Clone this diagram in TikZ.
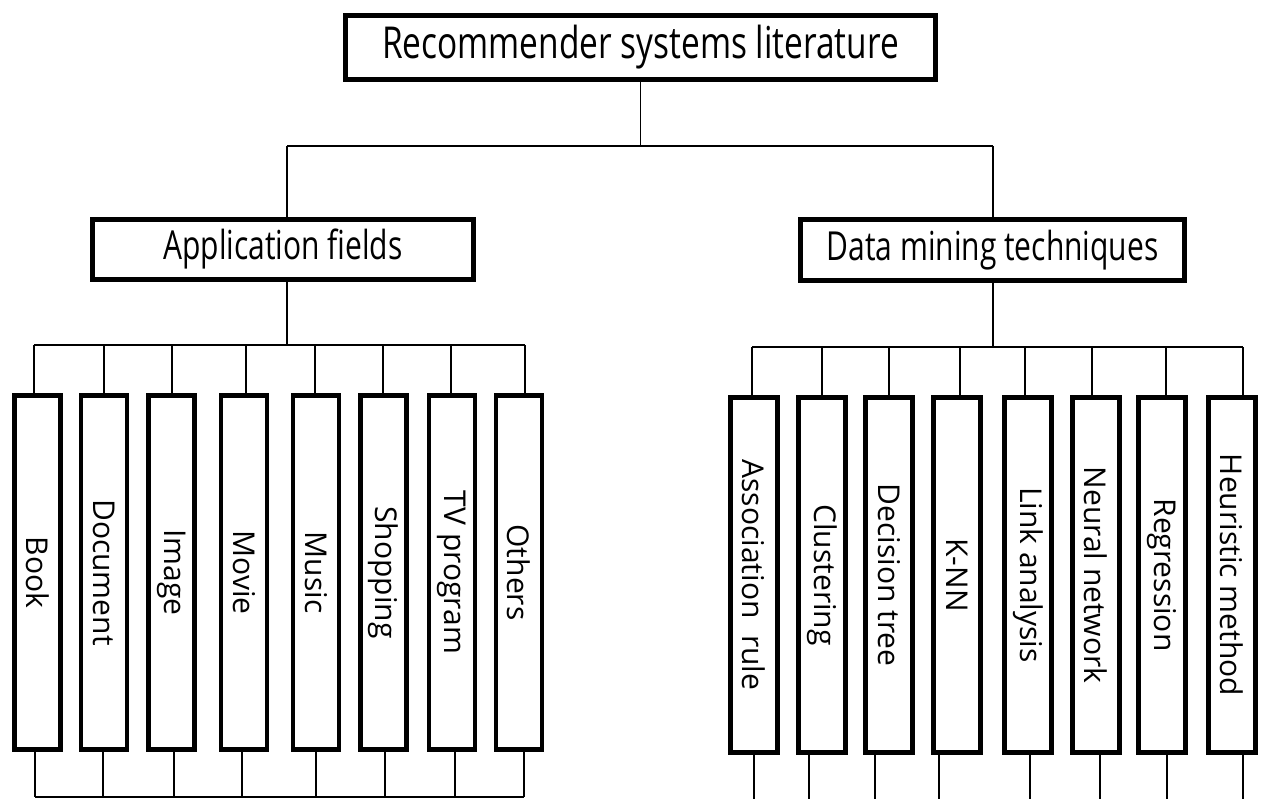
\documentclass[tikz,border=0pt]{standalone}
\usepackage{fontspec}
\setmainfont{Open Sans}
\newcommand\hlab[3][0.75]{\scalebox{#1}[1]{\fontsize{#2}{#2}\selectfont #3}}
\begin{document}
\begin{tikzpicture}[x=1pt,y=-1pt,
  box/.style={draw, line width=4.6pt, inner sep=0pt, fill=white},
  conn/.style={line width=1.8pt},
  leafL/.style={box, minimum width=46pt, minimum height=354pt, font=\fontsize{30}{30}\selectfont},
  leafR/.style={box, minimum width=47pt, minimum height=355pt, font=\fontsize{30}{30}\selectfont}]
\useasboundingbox (0,0) rectangle (1266,799);

% upper levels
\node[box, minimum width=590pt, minimum height=64pt] (root) at (640.5,47.5) {\hlab[0.76]{44}{Recommender systems literature}};
\node[box, minimum width=381pt, minimum height=60pt] (app) at (283,249.5) {\hlab{40}{Application fields}};
\node[box, minimum width=384pt, minimum height=61pt] (dm) at (992.5,250) {\hlab{40}{Data mining techniques}};

% leaves
\foreach \n/\x/\t in {book/37.5/Book, doc/104/Document, img/171.5/Image, movie/244/Movie,
    music/316/Music, shop/383.5/Shopping, tv/452/TV program, oth/519/Others}
  \node[leafL] (\n) at (\x,572.5) {\rotatebox{-90}{\t}};
\foreach \n/\x/\t in {assoc/754/Association\hspace{0.3em} rule, clus/822/Clustering, dtree/889/Decision tree,
    knn/957/K-NN, link/1028/Link analysis, neur/1096/Neural network, regr/1162/Regression, heur/1232/Heuristic method}
  \node[leafR] (\n) at (\x,575) {\rotatebox{-90}{\t}};

% bus coordinates
\coordinate (busA) at (287,146);
\coordinate (busB) at (993,146);
\coordinate (lbusL) at (34,345);
\coordinate (lbusR) at (525,345);
\coordinate (rbusL) at (752,347);
\coordinate (rbusR) at (1243,347);
\coordinate (lbotL) at (35,797);
\coordinate (lbotR) at (524,797);
\coordinate (rbot) at (0,799);

% root connectors
\draw[conn] (root.south) -- (root.south |- busA);
\draw[conn] (busA) -- (busB);
\draw[conn] (busA) -- (busA |- app.north);
\draw[conn] (busB) -- (busB |- dm.north);

% application fields
\draw[conn] (app.south -| busA) -- (lbusL -| busA);
\draw[conn] (lbusL) -- (lbusR);
\foreach \n/\dx in {book/-3.5, doc/0, img/0.5, movie/2, music/-1, shop/-0.5, tv/-1, oth/6}
  \draw[conn] ([xshift=\dx pt]\n.north) -- ([xshift=\dx pt]\n.north |- lbusL);
\foreach \n/\dx in {book/-2.5, doc/-1, img/2.5, movie/-2, music/0, shop/1.5, tv/3, oth/5}
  \draw[conn] ([xshift=\dx pt]\n.south) -- ([xshift=\dx pt]\n.south |- lbotL);
\draw[conn] (lbotL) -- (lbotR);

% data mining techniques
\draw[conn] (dm.south -| busB) -- (rbusL -| busB);
\draw[conn] (rbusL) -- (rbusR);
\foreach \n/\dx in {assoc/-2, clus/0, dtree/0, knn/3, link/-3, neur/-4, regr/4, heur/11}
  \draw[conn] ([xshift=\dx pt]\n.north) -- ([xshift=\dx pt]\n.north |- rbusL);
\foreach \n/\dx in {assoc/0, clus/-13, dtree/-14, knn/-18, link/2, neur/4, regr/5, heur/11}
  \draw[conn] ([xshift=\dx pt]\n.south) -- ([xshift=\dx pt]\n.south |- rbot);
\end{tikzpicture}
\end{document}
